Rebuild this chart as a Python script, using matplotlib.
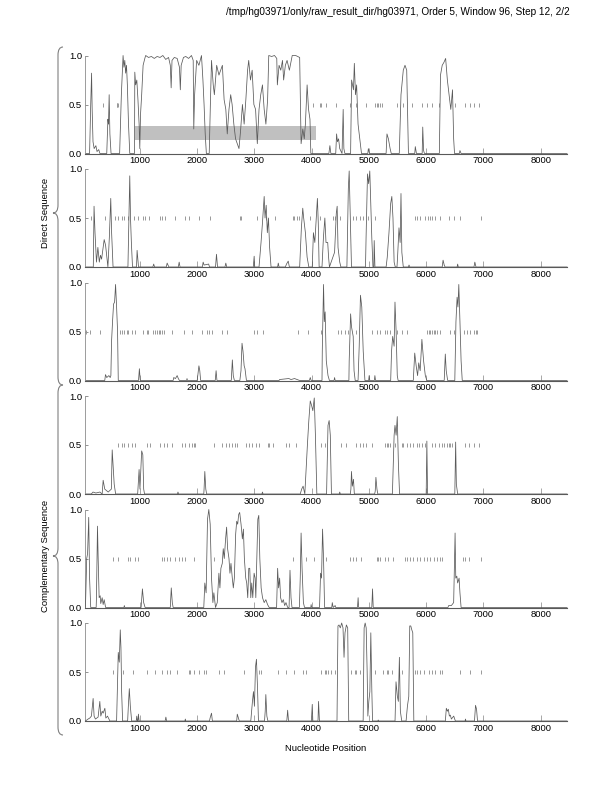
import matplotlib
matplotlib.use("Agg")
import matplotlib.pyplot as plt
from matplotlib.path import Path
from matplotlib.patches import PathPatch, Rectangle

plt.rcParams['font.family'] = ['Liberation Sans', 'DejaVu Sans']

title = "/tmp/hg03971/only/raw_result_dir/hg03971, Order 5, Window 96, Step 12, 2/2"
x_ticks = [1000, 2000, 3000, 4000, 5000, 6000, 7000, 8000]
y_ticks = [0.0, 0.5, 1.0]
x_range = (40, 8460)

# кадр 1 (прямая цепь)
frame_1 = [(60, 0.0), (120, 0.0), (140, 0.5), (155, 0.82), (165, 0.45), (180, 0.12), (200, 0.05),
           (230, 0.08), (250, 0.02), (280, 0.04), (300, 0.0), (420, 0.0), (440, 0.35), (450, 0.3),
           (462, 0.6), (475, 0.2), (495, 0.0), (645, 0.0), (675, 0.6), (705, 1.0), (720, 0.88),
           (735, 0.95), (750, 0.82), (765, 0.9), (780, 0.7), (800, 0.3), (822, 0.0), (905, 0.0),
           (910, 0.83), (925, 0.7), (945, 0.75), (965, 0.55), (985, 0.3), (997, 0.05), (1010, 0.4),
           (1030, 0.6), (1055, 0.9), (1085, 0.97), (1100, 1.0), (1150, 0.98), (1200, 0.99),
           (1250, 0.97), (1300, 0.99), (1350, 0.98), (1400, 1.0), (1450, 0.96), (1500, 0.98),
           (1530, 0.9), (1545, 0.67), (1560, 0.95), (1600, 0.98), (1650, 0.97), (1690, 0.88),
           (1705, 0.65), (1720, 0.9), (1760, 0.98), (1800, 0.99), (1850, 0.97), (1900, 1.0),
           (1930, 0.95), (1940, 0.25), (1955, 0.6), (1990, 0.95), (2030, 0.9), (2075, 1.0),
           (2100, 0.75), (2120, 0.5), (2140, 0.2), (2160, 0.0), (2210, 0.0), (2230, 0.5),
           (2250, 0.95), (2280, 0.7), (2300, 0.6), (2340, 0.9), (2380, 0.8), (2440, 0.9),
           (2470, 0.55), (2500, 0.45), (2525, 0.2), (2555, 0.45), (2585, 0.6), (2610, 0.5),
           (2640, 0.3), (2670, 0.15), (2700, 0.1), (2730, 0.05), (2760, 0.25), (2790, 0.5),
           (2820, 0.3), (2850, 0.55), (2880, 0.85), (2900, 0.95), (2930, 0.75), (2960, 0.85),
           (2990, 0.5), (3020, 0.45), (3050, 0.1), (3080, 0.45), (3110, 0.6), (3140, 0.7),
           (3170, 0.45), (3200, 0.3), (3230, 0.55), (3250, 1.0), (3300, 0.99), (3350, 1.0),
           (3390, 0.97), (3400, 0.7), (3430, 0.9), (3460, 0.85), (3490, 0.95), (3510, 0.75),
           (3540, 0.9), (3570, 0.95), (3610, 0.85), (3660, 1.0), (3720, 1.0), (3790, 0.98),
           (3815, 0.1), (3845, 0.25), (3870, 0.15), (3890, 0.3), (3920, 0.7), (3945, 0.45),
           (3970, 0.35), (3985, 0.0), (4300, 0.0), (4318, 0.08), (4335, 0.0), (4420, 0.0),
           (4435, 0.2), (4450, 0.12), (4470, 0.15), (4490, 0.05), (4530, 0.0), (4550, 0.45),
           (4562, 0.05), (4580, 0.0), (4680, 0.0), (4697, 0.75), (4730, 0.65), (4745, 0.92),
           (4765, 0.6), (4785, 0.7), (4810, 0.3), (4840, 0.15), (4870, 0.0), (4980, 0.0),
           (4990, 0.05), (5010, 0.0), (5300, 0.0), (5315, 0.2), (5340, 0.15), (5370, 0.05),
           (5390, 0.0), (5530, 0.0), (5560, 0.6), (5600, 0.85), (5630, 0.9), (5660, 0.85),
           (5690, 0.0), (5800, 0.0), (5810, 0.07), (5830, 0.0), (5930, 0.0), (5940, 0.27),
           (5955, 0.03), (5970, 0.0), (6230, 0.0), (6250, 0.8), (6280, 0.9), (6310, 0.93),
           (6340, 0.97), (6370, 0.75), (6400, 0.6), (6430, 0.45), (6460, 0.65), (6480, 0.15),
           (6495, 0.0), (6580, 0.0), (6590, 0.03), (6610, 0.0), (8460, 0.0)]

frame_2 = [(60, 0.0), (185, 0.0), (198, 0.62), (215, 0.35), (240, 0.05), (265, 0.2), (290, 0.05),
           (310, 0.12), (330, 0.08), (375, 0.28), (400, 0.22), (440, 0.0), (465, 0.3), (490, 0.7),
           (505, 0.35), (530, 0.0), (790, 0.0), (822, 0.93), (835, 0.5), (850, 0.25), (870, 0.0),
           (940, 0.0), (950, 0.17), (960, 0.1), (975, 0.0), (1225, 0.0), (1240, 0.03), (1255, 0.0),
           (1460, 0.0), (1475, 0.04), (1490, 0.02), (1505, 0.0), (1670, 0.0), (1685, 0.05),
           (1700, 0.0), (2090, 0.0), (2104, 0.05), (2120, 0.02), (2200, 0.03), (2215, 0.0),
           (2320, 0.0), (2337, 0.13), (2355, 0.0), (2485, 0.0), (2500, 0.04), (2515, 0.0),
           (2980, 0.0), (2995, 0.11), (3005, 0.0), (3080, 0.0), (3094, 0.1), (3115, 0.25),
           (3140, 0.45), (3170, 0.72), (3185, 0.5), (3205, 0.63), (3225, 0.35), (3245, 0.5),
           (3265, 0.2), (3290, 0.0), (3405, 0.0), (3416, 0.04), (3430, 0.0), (3540, 0.0),
           (3560, 0.03), (3590, 0.06), (3610, 0.0), (3790, 0.0), (3820, 0.4), (3844, 0.6),
           (3860, 0.5), (3890, 0.35), (3920, 0.1), (3950, 0.0), (4010, 0.0), (4030, 0.35),
           (4055, 0.25), (4075, 0.45), (4100, 0.7), (4115, 0.45), (4130, 0.0), (4180, 0.0),
           (4205, 0.3), (4230, 0.5), (4250, 0.25), (4280, 0.25), (4295, 0.1), (4310, 0.0),
           (4400, 0.15), (4430, 0.55), (4445, 0.62), (4460, 0.2), (4490, 0.05), (4510, 0.0),
           (4615, 0.0), (4625, 0.3), (4640, 0.8), (4655, 0.98), (4670, 0.6), (4695, 0.0),
           (4940, 0.0), (4950, 0.3), (4975, 0.95), (4995, 0.85), (5015, 0.98), (5030, 0.7),
           (5050, 0.3), (5070, 0.0), (5085, 0.0), (5092, 0.27), (5105, 0.0), (5300, 0.0),
           (5320, 0.1), (5350, 0.35), (5380, 0.65), (5400, 0.72), (5420, 0.5), (5440, 0.05),
           (5460, 0.0), (5490, 0.0), (5500, 0.1), (5525, 0.4), (5545, 0.25), (5560, 0.75),
           (5575, 0.15), (5600, 0.0), (5690, 0.0), (5700, 0.02), (5715, 0.0), (6280, 0.0),
           (6295, 0.07), (6315, 0.02), (6330, 0.0), (6540, 0.0), (6550, 0.03), (6560, 0.0),
           (6835, 0.0), (6850, 0.05), (6870, 0.0), (8460, 0.0)]

frame_3 = [(60, 0.0), (385, 0.0), (398, 0.06), (420, 0.03), (457, 0.05), (480, 0.03), (492, 0.05),
           (504, 0.4), (521, 0.6), (539, 0.78), (557, 0.8), (574, 0.98), (592, 0.75), (609, 0.5),
           (621, 0.0), (975, 0.0), (990, 0.12), (1005, 0.0), (1580, 0.0), (1590, 0.03),
           (1620, 0.02), (1650, 0.05), (1670, 0.02), (1690, 0.0), (1815, 0.0), (1822, 0.02),
           (1830, 0.0), (2000, 0.0), (2010, 0.05), (2030, 0.15), (2045, 0.1), (2060, 0.0),
           (2315, 0.0), (2330, 0.1), (2345, 0.0), (2595, 0.0), (2600, 0.05), (2614, 0.21),
           (2630, 0.05), (2650, 0.0), (2745, 0.0), (2765, 0.1), (2783, 0.38), (2800, 0.3),
           (2820, 0.15), (2835, 0.12), (2860, 0.0), (3430, 0.0), (3440, 0.01), (3600, 0.02),
           (3640, 0.01), (3700, 0.02), (3790, 0.0), (3960, 0.0), (3975, 0.03), (3990, 0.0),
           (4180, 0.0), (4185, 0.3), (4207, 0.98), (4220, 0.6), (4235, 0.7), (4255, 0.2),
           (4285, 0.05), (4310, 0.0), (4390, 0.0), (4400, 0.03), (4410, 0.0), (4650, 0.0),
           (4655, 0.2), (4680, 0.68), (4695, 0.55), (4725, 0.45), (4740, 0.1), (4760, 0.0),
           (4810, 0.0), (4830, 0.35), (4852, 0.87), (4875, 0.75), (4900, 0.3), (4930, 0.0),
           (4995, 0.0), (5004, 0.05), (5015, 0.0), (5095, 0.0), (5104, 0.05), (5115, 0.0),
           (5380, 0.0), (5395, 0.3), (5415, 0.45), (5440, 0.35), (5455, 0.8), (5475, 0.5),
           (5495, 0.05), (5510, 0.0), (5775, 0.0), (5800, 0.28), (5825, 0.15), (5850, 0.05),
           (5870, 0.18), (5895, 0.1), (5925, 0.42), (5955, 0.2), (5985, 0.05), (6012, 0.0),
           (6315, 0.0), (6334, 0.27), (6350, 0.1), (6375, 0.0), (6500, 0.0), (6520, 0.6),
           (6540, 0.85), (6555, 0.75), (6570, 0.98), (6590, 0.6), (6610, 0.2), (6630, 0.0),
           (8460, 0.0)]

# кадры 4-6 (комплементарная цепь)
frame_4 = [(60, 0.0), (150, 0.0), (180, 0.02), (230, 0.01), (300, 0.02), (340, 0.0), (357, 0.14),
           (385, 0.05), (445, 0.02), (500, 0.05), (515, 0.45), (535, 0.25), (550, 0.1), (575, 0.0),
           (960, 0.0), (985, 0.25), (1000, 0.05), (1030, 0.44), (1050, 0.4), (1065, 0.05),
           (1080, 0.0), (1655, 0.0), (1664, 0.02), (1675, 0.0), (2115, 0.0), (2120, 0.05),
           (2133, 0.23), (2150, 0.05), (2165, 0.0), (3130, 0.0), (3140, 0.02), (3150, 0.0),
           (3800, 0.0), (3825, 0.05), (3850, 0.08), (3880, 0.0), (3925, 0.5), (3950, 0.75),
           (3975, 0.95), (4000, 0.9), (4020, 0.85), (4045, 0.98), (4065, 0.6), (4090, 0.0),
           (4260, 0.0), (4285, 0.7), (4305, 0.75), (4325, 0.6), (4345, 0.0), (4480, 0.0),
           (4490, 0.02), (4500, 0.0), (4675, 0.0), (4685, 0.05), (4695, 0.23), (4710, 0.08),
           (4730, 0.15), (4745, 0.0), (5100, 0.0), (5110, 0.03), (5122, 0.17), (5140, 0.05),
           (5155, 0.0), (5410, 0.0), (5440, 0.6), (5455, 0.7), (5475, 0.6), (5495, 0.79),
           (5515, 0.3), (5535, 0.0), (6000, 0.0), (6012, 0.54), (6024, 0.0), (6500, 0.0),
           (6515, 0.53), (6527, 0.1), (6550, 0.0), (8460, 0.0)]

frame_5 = [(48, 0.0), (70, 0.5), (85, 0.55), (105, 0.92), (120, 0.3), (140, 0.0), (235, 0.0),
           (240, 0.1), (258, 0.83), (270, 0.5), (287, 0.1), (305, 0.12), (315, 0.04), (340, 0.1),
           (357, 0.03), (375, 0.08), (400, 0.0), (720, 0.0), (727, 0.02), (735, 0.0), (1020, 0.0),
           (1043, 0.19), (1065, 0.05), (1090, 0.0), (1530, 0.0), (1547, 0.2), (1565, 0.05),
           (1580, 0.0), (2115, 0.0), (2133, 0.25), (2156, 0.15), (2180, 0.9), (2203, 1.0),
           (2227, 0.85), (2250, 0.3), (2274, 0.05), (2291, 0.15), (2320, 0.0), (2350, 0.05),
           (2379, 0.35), (2397, 0.2), (2414, 0.4), (2438, 0.45), (2455, 0.6), (2473, 0.5),
           (2496, 0.7), (2514, 0.82), (2531, 0.6), (2555, 0.5), (2572, 0.35), (2590, 0.45),
           (2613, 0.3), (2631, 0.2), (2649, 0.3), (2672, 0.75), (2690, 0.88), (2707, 0.85),
           (2725, 0.95), (2742, 0.97), (2766, 0.85), (2789, 0.7), (2807, 0.8), (2824, 0.5),
           (2848, 0.3), (2865, 0.25), (2883, 0.1), (2901, 0.4), (2918, 0.4), (2936, 0.1),
           (2953, 0.25), (2971, 0.1), (2994, 0.35), (3012, 0.3), (3024, 0.1), (3041, 0.5),
           (3059, 0.9), (3076, 0.94), (3094, 0.5), (3117, 0.2), (3141, 0.1), (3170, 0.05),
           (3199, 0.08), (3229, 0.03), (3258, 0.0), (3387, 0.0), (3405, 0.4), (3422, 0.2),
           (3440, 0.3), (3457, 0.1), (3481, 0.05), (3504, 0.08), (3528, 0.02), (3551, 0.05),
           (3580, 0.0), (3605, 0.0), (3621, 0.38), (3639, 0.1), (3656, 0.0), (3785, 0.0),
           (3800, 0.3), (3815, 0.76), (3832, 0.4), (3855, 0.05), (3875, 0.0), (3985, 0.0),
           (3990, 0.03), (4000, 0.0), (4137, 0.0), (4155, 0.35), (4172, 0.3), (4190, 0.8),
           (4207, 0.5), (4225, 0.0), (4350, 0.0), (4360, 0.05), (4375, 0.0), (4410, 0.02),
           (4420, 0.0), (4800, 0.0), (4811, 0.1), (4820, 0.0), (5050, 0.0), (5063, 0.19),
           (5075, 0.0), (6380, 0.0), (6393, 0.02), (6440, 0.02), (6480, 0.05), (6505, 0.76),
           (6517, 0.3), (6535, 0.32), (6550, 0.25), (6575, 0.3), (6590, 0.15), (6610, 0.0),
           (8460, 0.0)]

frame_6 = [(48, 0.0), (94, 0.02), (123, 0.03), (152, 0.05), (182, 0.23), (199, 0.05), (222, 0.02),
           (269, 0.04), (299, 0.2), (316, 0.05), (340, 0.1), (357, 0.08), (387, 0.13), (404, 0.03),
           (433, 0.05), (475, 0.0), (592, 0.0), (609, 0.4), (621, 0.7), (639, 0.6), (656, 0.93),
           (668, 0.75), (680, 0.3), (697, 0.0), (785, 0.0), (797, 0.15), (814, 0.33), (832, 0.15),
           (855, 0.0), (935, 0.0), (944, 0.05), (955, 0.0), (965, 0.0), (973, 0.07), (985, 0.0),
           (1440, 0.0), (1453, 0.04), (1465, 0.0), (1785, 0.0), (1793, 0.02), (1800, 0.0),
           (2215, 0.0), (2225, 0.03), (2250, 0.08), (2265, 0.0), (2690, 0.0), (2700, 0.07),
           (2720, 0.03), (2735, 0.0), (2936, 0.0), (2965, 0.2), (2983, 0.3), (3000, 0.15),
           (3018, 0.55), (3035, 0.63), (3053, 0.35), (3070, 0.0), (3176, 0.0), (3188, 0.1),
           (3199, 0.27), (3217, 0.05), (3235, 0.0), (3565, 0.0), (3580, 0.11), (3595, 0.0),
           (3995, 0.0), (4010, 0.17), (4020, 0.0), (4110, 0.0), (4120, 0.2), (4135, 0.0),
           (4442, 0.0), (4459, 0.97), (4477, 0.98), (4500, 0.95), (4524, 1.0), (4547, 0.95),
           (4565, 0.65), (4582, 0.9), (4606, 0.98), (4629, 0.95), (4647, 0.0), (4899, 0.0),
           (4916, 0.95), (4934, 1.0), (4952, 0.95), (4969, 0.5), (4981, 0.05), (4998, 0.2),
           (5016, 0.3), (5033, 0.9), (5051, 0.3), (5063, 0.0), (5155, 0.0), (5163, 0.01),
           (5170, 0.0), (5456, 0.0), (5473, 0.4), (5497, 0.25), (5514, 0.2), (5532, 0.65),
           (5549, 0.1), (5573, 0.0), (5649, 0.0), (5672, 0.15), (5696, 0.25), (5713, 0.97),
           (5731, 0.97), (5749, 0.93), (5766, 0.9), (5784, 0.0), (6335, 0.0), (6352, 0.13),
           (6370, 0.1), (6387, 0.12), (6405, 0.05), (6422, 0.06), (6440, 0.02), (6481, 0.05),
           (6510, 0.0), (6680, 0.0), (6686, 0.02), (6695, 0.0), (6844, 0.0), (6862, 0.16),
           (6880, 0.12), (6897, 0.0), (8460, 0.0)]

# стоп-кодоны (штрихи на уровне 0.5)
stops_1 = [357, 592, 605, 621, 4020, 4137, 4166, 4254, 4430, 4664, 4782, 4957, 5104, 5133, 5163,
           5192, 5221, 5485, 5602, 5749, 5924, 6012, 6100, 6217, 6510, 6686, 6774, 6833, 6921]
stops_2 = [141, 387, 563, 621, 680, 727, 785, 902, 973, 1049, 1090, 1160, 1354, 1383, 1430, 1617,
           1793, 1852, 2028, 2215, 2742, 2760, 3053, 3200, 3364, 3668, 3698, 3739, 3786, 3973,
           4137, 4372, 4401, 4489, 4723, 4782, 4840, 4899, 4987, 5104, 5807, 5837, 5895, 5983,
           6024, 6071, 6100, 6159, 6247, 6393, 6481, 6598, 6950]
stops_3 = [64, 123, 299, 650, 691, 727, 768, 797, 855, 914, 1061, 1119, 1148, 1236, 1266, 1295,
           1324, 1354, 1383, 1412, 1559, 1764, 1910, 2086, 2174, 2203, 2262, 2438, 2526, 2994,
           3053, 3141, 3756, 3932, 4166, 4459, 4518, 4577, 4635, 4782, 5045, 5133, 5192, 5280,
           5309, 5368, 5485, 5573, 5661, 6012, 6042, 6071, 6100, 6129, 6159, 6188, 6247, 6422,
           6481, 6657, 6715, 6774, 6833, 6862, 6891]
stops_4 = [621, 691, 727, 797, 855, 914, 1119, 1178, 1354, 1412, 1471, 1559, 1734, 1793, 1852,
           1910, 1940, 1969, 2291, 2438, 2496, 2555, 2613, 2660, 2701, 2848, 2906, 2965, 3024,
           3082, 3229, 3258, 3317, 3551, 3610, 3727, 4166, 4225, 4518, 4606, 4782, 4840, 4899,
           4957, 5045, 5280, 5309, 5338, 5368, 5456, 5573, 5602, 5661, 5719, 5778, 5836, 5866,
           5924, 5983, 6100, 6159, 6217, 6276, 6305, 6364, 6393, 6422, 6452, 6686, 6745, 6833,
           6921]
stops_5 = [533, 621, 797, 826, 914, 973, 1383, 1412, 1471, 1529, 1617, 1676, 1734, 1793, 1940,
           2291, 3668, 3903, 4049, 4254, 4664, 4723, 4782, 4870, 5133, 5163, 5192, 5280, 5338,
           5426, 5631, 5661, 5719, 5778, 5836, 5895, 5954, 6012, 6071, 6129, 6188, 6235, 6276,
           6645, 6686, 6745, 6950]
stops_6 = [533, 709, 885, 1119, 1266, 1383, 1471, 1529, 1647, 1852, 1881, 1940, 2028, 2115, 2145,
           2379, 2467, 2819, 3082, 3112, 3405, 3551, 3698, 3844, 3903, 4166, 4225, 4254, 4284,
           4342, 4401, 4694, 4752, 4782, 4840, 5104, 5250, 5309, 5338, 5397, 5573, 5807, 5836,
           5895, 5954, 6042, 6100, 6159, 6247, 6276, 6598, 6774, 6950]

# серый прямоугольник на первом кадре (начало, конец, низ, верх)
box_1 = (914, 4078, 0.14, 0.28)

frames = [frame_1, frame_2, frame_3, frame_4, frame_5, frame_6]
stops = [stops_1, stops_2, stops_3, stops_4, stops_5, stops_6]

W, H = 612, 792
fig = plt.figure(figsize=(W / 100, H / 100), dpi=100)

tops = [55.5, 169, 282.5, 396, 509.5, 623]
ax_left, ax_right, ax_h = 85, 567, 98
fs = 6.8

for i in range(6):
    ax = fig.add_axes([ax_left / W, 1 - (tops[i] + ax_h) / H, (ax_right - ax_left) / W, ax_h / H])
    xs = [p[0] for p in frames[i]]
    ys = [p[1] for p in frames[i]]
    ax.plot(xs, ys, color='0.35', lw=0.55, clip_on=False, zorder=3)
    ax.plot(stops[i], [0.5] * len(stops[i]), ls='none', marker='|', ms=3, mew=0.7,
            color='0.6', zorder=2)
    if i == 0:
        ax.add_patch(Rectangle((box_1[0], box_1[2]), box_1[1] - box_1[0], box_1[3] - box_1[2],
                               facecolor='#c0c0c0', edgecolor='none', zorder=1))
    ax.set_xlim(*x_range)
    ax.set_ylim(0, 1)
    ax.set_xticks(x_ticks)
    ax.set_yticks(y_ticks)
    ax.set_yticklabels(['0.0', '0.5', '1.0'])
    ax.tick_params(axis='x', direction='in', length=4.5, width=0.6, color='0.6',
                   labelsize=fs, pad=2)
    ax.tick_params(axis='y', direction='in', length=2.5, width=0.6, color='0.5',
                   labelsize=fs, pad=2)
    ax.spines['top'].set_visible(False)
    ax.spines['right'].set_visible(False)
    ax.spines['bottom'].set_color('0.35')
    ax.spines['bottom'].set_linewidth(0.8)
    ax.spines['left'].set_color('0.55')
    ax.spines['left'].set_linewidth(0.6)
    ax.patch.set_alpha(0)
    if i == 5:
        ax.set_xlabel('Nucleotide Position', fontsize=fs, labelpad=8)

fig.text(570 / W, 1 - 12 / H, title, ha='right', va='center', fontsize=7.2)


def brace(y_top, y_bot, y_mid, x0=58, dx=5):
    # фигурная скобка в пикселях (y вниз)
    pts = [(x0 + dx, y_top), (x0, y_top), (x0, y_top + 8),
           (x0, y_mid - 8), (x0, y_mid), (x0 - dx, y_mid),
           (x0, y_mid), (x0, y_mid + 8),
           (x0, y_bot - 8), (x0, y_bot), (x0 + dx, y_bot)]
    codes = [Path.MOVETO, Path.CURVE3, Path.CURVE3,
             Path.LINETO, Path.CURVE3, Path.CURVE3,
             Path.CURVE3, Path.CURVE3,
             Path.LINETO, Path.CURVE3, Path.CURVE3]
    verts = [(x / W, 1 - y / H) for x, y in pts]
    fig.add_artist(PathPatch(Path(verts, codes), transform=fig.transFigure,
                             facecolor='none', edgecolor='0.5', lw=0.8))


brace(47, 385, 213)
brace(385, 735, 556)
fig.text(45 / W, 1 - 213 / H, 'Direct Sequence', rotation=90, ha='center', va='center',
         fontsize=fs)
fig.text(45 / W, 1 - 556 / H, 'Complementary Sequence', rotation=90, ha='center', va='center',
         fontsize=fs)

fig.savefig('out.png', dpi=100)
